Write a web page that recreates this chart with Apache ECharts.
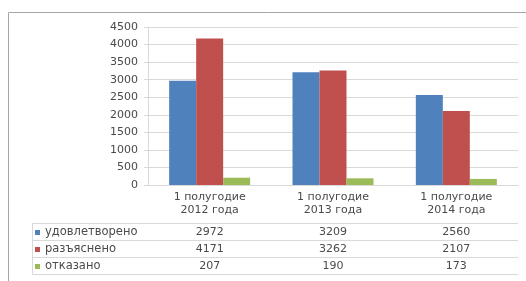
<!DOCTYPE html>
<html>
<head>
<meta charset="utf-8">
<script src="https://cdn.jsdelivr.net/npm/echarts@6/dist/echarts.min.js"></script>
<style>
  html, body { margin: 0; padding: 0; background: #fff; }
  #main { width: 526px; height: 281px; }
</style>
</head>
<body>
<div id="main"></div>
<script>
const categories = ["1 полугодие\n2012 года", "1 полугодие\n2013 года", "1 полугодие\n2014 года"];
const seriesNames = ["удовлетворено", "разъяснено", "отказано"];
const satisfied = [2972, 3209, 2560];
const explained = [4171, 3262, 2107];
const refused = [207, 190, 173];
const yTicks = [0, 500, 1000, 1500, 2000, 2500, 3000, 3500, 4000, 4500];

const rows = [satisfied, explained, refused];
const colors = ["#4f81bd", "#c0504d", "#9bbb59"];
const font = "DejaVu Sans";
const textColor = "#4a4a4a";
const lineColor = "#d9d9d9";

// plot area
const gLeft = 148, gRight = 518, gTop = 27, gBottom = 185;
// table
const tabLeft = 32, rowTop = 223, rowH = 17;

const chart = echarts.init(document.getElementById("main"));

const rowAxes = rows.map((vals, i) => ({
  type: "category",
  data: categories,
  position: "bottom",
  offset: rowTop - gBottom + rowH * i,
  axisLine: { show: false },
  axisTick: { show: false },
  axisLabel: {
    margin: 1,
    interval: 0,
    lineHeight: rowH,
    fontSize: 11,
    fontFamily: font,
    color: textColor,
    formatter: (v, idx) => String(vals[idx]),
  },
}));

const tableLines = [];
for (let i = 0; i <= rows.length; i++) {
  const y = rowTop + rowH * i + 0.5;
  tableLines.push({
    type: "line",
    shape: { x1: tabLeft, y1: y, x2: gRight, y2: y },
    style: { stroke: lineColor, lineWidth: 1 },
  });
}
tableLines.push({
  type: "line",
  shape: { x1: tabLeft + 0.5, y1: rowTop, x2: tabLeft + 0.5, y2: rowTop + rowH * rows.length },
  style: { stroke: lineColor, lineWidth: 1 },
});

const option = {
  animation: false,
  grid: { left: gLeft, right: 526 - gRight, top: gTop, bottom: 281 - gBottom },
  legend: {
    orient: "vertical",
    left: tabLeft + 3,
    top: rowTop + 1,
    padding: 0,
    itemGap: 0,
    itemWidth: 5,
    itemHeight: 5,
    icon: "rect",
    selectedMode: false,
    data: seriesNames,
    textStyle: { fontSize: 11.5, fontFamily: font, color: textColor, lineHeight: rowH },
  },
  xAxis: [
    {
      type: "category",
      data: categories,
      boundaryGap: true,
      axisLine: { lineStyle: { color: lineColor } },
      axisTick: { interval: 0, length: rowTop - gBottom + rowH * rows.length, lineStyle: { color: lineColor } },
      axisLabel: {
        interval: 0,
        margin: 6,
        lineHeight: 13,
        fontSize: 11,
        fontFamily: font,
        color: textColor,
      },
    },
  ].concat(rowAxes),
  yAxis: {
    type: "value",
    min: yTicks[0],
    max: yTicks[yTicks.length - 1],
    interval: 500,
    axisLine: { show: true, lineStyle: { color: lineColor } },
    axisTick: { show: true, length: 4, lineStyle: { color: lineColor } },
    splitLine: { lineStyle: { color: lineColor } },
    axisLabel: {
      margin: 10,
      fontSize: 11,
      fontFamily: font,
      color: textColor,
      formatter: (v) => String(v),
    },
  },
  series: seriesNames.map((name, i) => ({
    name: name,
    type: "bar",
    data: rows[i],
    barWidth: 27,
    barGap: "0%",
    itemStyle: { color: colors[i] },
  })),
  graphic: [
    {
      type: "rect",
      shape: { x: 8.5, y: 12.5, width: 530, height: 280 },
      style: { fill: "none", stroke: "#a6a6a6", lineWidth: 1 },
      z: -1,
    },
  ].concat(tableLines),
};

chart.setOption(option);
</script>
</body>
</html>
